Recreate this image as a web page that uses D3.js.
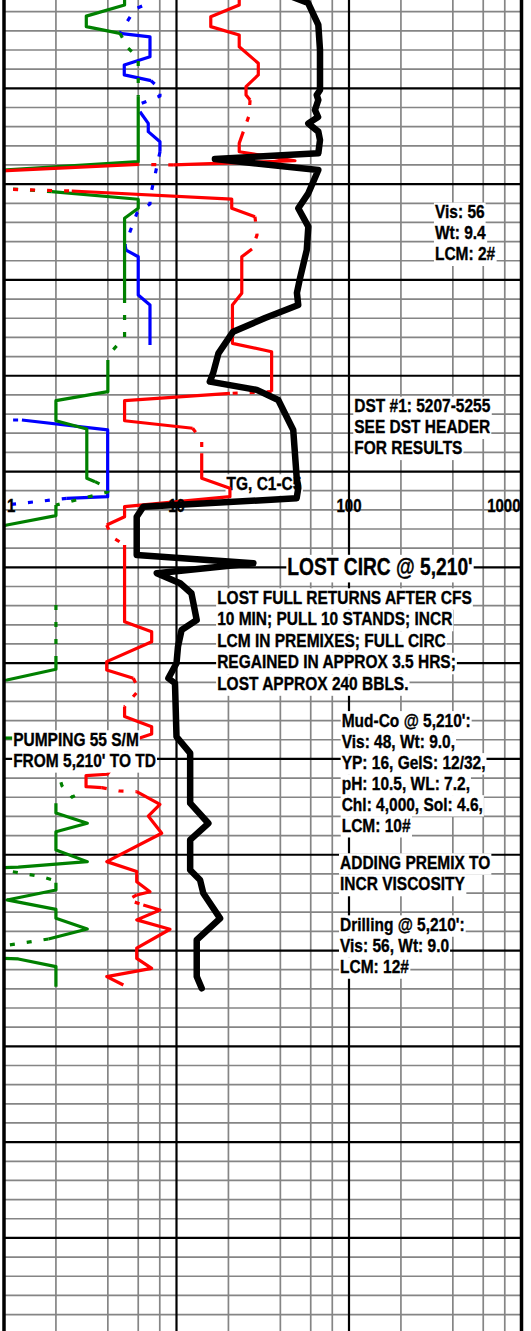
<!DOCTYPE html>
<html><head><meta charset="utf-8">
<script src="https://cdn.jsdelivr.net/npm/d3@7/dist/d3.min.js"></script>
<style>html,body{margin:0;padding:0;background:#fff;} svg{display:block;}</style>
</head><body>
<svg id="chart" width="531" height="1331"></svg>
<script>
// ---------- DATA (depth in ft, value on log scale 1..1000) ----------
const scaleTicks = [1, 10, 100, 1000];
const scaleTickLabels = ["1", "10", "100", "1000"];
const minorDecadeSteps = [2, 4, 6, 8];

// Total gas (black)
const tgDepth = [4951.8, 4955.5, 4966.9, 4980.0, 5000.9, 5003.5, 5006.1, 5011.3, 5015.0, 5018.3, 5022.6, 5027.0, 5033.9, 5036.9, 5042.6, 5054.8, 5062.6, 5072.2, 5084.4, 5099.1, 5106.8, 5113.1, 5119.9, 5127.0, 5138.3, 5148.7, 5153.1, 5157.4, 5162.7, 5178.3, 5202.7, 5208.7, 5214.0, 5218.4, 5223.6, 5243.6, 5247.9, 5253.1, 5258.3, 5263.5, 5277.5, 5282.7, 5291.4, 5300.1, 5307.9, 5310.5, 5338.4, 5347.0, 5373.1, 5383.6, 5392.3, 5408.0, 5413.2, 5420.1, 5433.2, 5444.5, 5463.6, 5469.7];
const tgValue = [45.5, 58.0, 66.4, 67.9, 67.9, 65.0, 66.4, 63.5, 66.2, 58.1, 66.4, 67.9, 66.4, 16.7, 66.4, 58.1, 50.8, 58.1, 56.9, 52.0, 49.9, 50.8, 32.6, 21.3, 17.5, 16.3, 15.6, 29.2, 38.9, 47.5, 49.7, 50.8, 49.7, 6.42, 5.88, 5.88, 27.9, 7.68, 10.5, 12.2, 13.1, 10.7, 10.2, 10.0, 8.97, 9.8, 10.0, 12.0, 12.0, 15.3, 12.0, 12.0, 13.7, 14.3, 17.9, 13.1, 13.1, 14.0];

// Red curve: [depth, value] runs
const redSolid = [
  [[4950.8,23.1],[4956.5,23.1],[4962.6,15.8],[4967.8,15.8],[4972.2,23.1],[4978.3,23.1],[4986.9,29.8],[4993.0,29.8],[4999.1,25.3],[5003.5,25.3],[5006.1,26.7]],
  [[5022.6,24.4],[5028.7,23.1],[5033.1,23.1],[5037.8,48.6],[5040.0,9.58]],
  [[5039.7,6.0],[5043.0,1.04],[5043.4,0.9],[5052.5,0.9]],
  [[5053.6,2.47],[5057.8,20.9],[5062.6,20.9],[5067.0,28.5]],
  [[5083.9,27.4],[5087.9,23.9],[5107.0,23.9],[5113.1,21.1],[5133.1,21.1],[5137.5,35.6],[5158.3,35.6]],
  [[5159.2,20.4],[5163.0,5.0],[5173.5,5.0],[5177.4,12.4]],
  [[5190.5,14.0],[5203.5,14.0],[5208.7,20.4],[5213.1,20.4],[5218.3,5.0],[5223.6,5.0],[5227.9,3.94]],
  [[5238.3,5.0],[5278.4,5.0],[5283.6,7.18],[5288.8,7.18],[5299.2,3.94],[5303.6,3.94],[5307.9,5.62]],
  [[5322.7,5.0],[5327.9,5.0],[5333.2,7.18],[5337.0,7.18],[5339.6,5.88],[5358.0,3.97],[5358.7,2.99],[5364.5,2.99],[5365.0,3.69]],
  [[5367.1,5.88],[5373.7,8.02],[5379.8,6.86],[5388.8,8.21],[5403.6,3.94],[5408.8,5.88],[5414.1,5.88],[5419.3,7.02],[5421.0,5.88]],
  [[5426.2,6.42],[5428.8,8.02],[5434.0,5.88],[5438.9,9.17],[5448.8,5.88],[5454.1,5.88],[5459.3,7.18],[5463.6,3.94],[5468.0,4.92]]
];
const redDashed = [
  [[5006.1,26.7],[5014.4,26.3],[5022.6,24.4]],
  [[5040.0,9.58],[5039.7,6.0]],
  [[5052.5,0.9],[5053.6,2.47]],
  [[5067.0,28.5],[5076.5,29.3],[5083.9,27.4]],
  [[5158.3,35.6],[5159.2,20.4]],
  [[5177.4,12.4],[5183.5,14.0],[5190.5,14.0]],
  [[5227.9,3.94],[5234.2,4.23],[5238.3,5.0]],
  [[5307.9,5.62],[5314.0,6.06],[5322.7,5.0]],
  [[5365.0,3.69],[5366.7,4.64],[5367.1,5.88]],
  [[5421.0,5.88],[5423.6,5.24],[5426.2,6.42]]
];

// Green curve
const greenSolid = [
  [[4950.8,5.0],[4956.5,5.0],[4962.3,3.0],[4967.8,3.0],[4971.3,4.7]],
  [[5004.4,6.0],[5038.3,6.0],[5042.6,1.04],[5043.1,0.9],[5052.0,0.9]],
  [[5053.9,1.89],[5057.9,6.0],[5062.6,6.0],[5067.8,5.0],[5109.4,5.0]],
  [[5141.8,4.0],[5158.3,4.0],[5163.0,2.0],[5173.5,2.0],[5177.8,3.02],[5203.5,3.02],[5205.3,3.37]],
  [[5217.5,2.0],[5223.0,2.0],[5227.9,1.04],[5228.9,0.9]],
  [[5298.4,2.0],[5303.2,2.0],[5308.8,1.04],[5309.3,0.9]],
  [[5339.1,0.9],[5339.1,1.24]],
  [[5373.1,2.0],[5378.2,2.0],[5383.6,3.04],[5388.0,2.0],[5397.5,2.0],[5403.6,3.04],[5406.5,1.21],[5406.9,0.9]],
  [[5414.6,2.0],[5418.4,2.0],[5423.6,1.04],[5428.5,2.0],[5433.2,2.0],[5438.8,3.04],[5444.0,1.81]],
  [[5453.9,0.9],[5454.4,1.21],[5458.4,2.0],[5468.9,2.0]]
];
const greenDashed = [
  [[4971.3,4.7],[4979.0,5.24],[4984.2,6.0],[5004.4,6.0]],
  [[5052.0,0.9],[5053.9,1.89]],
  [[5109.4,5.0],[5129.8,5.0],[5136.6,4.28],[5141.8,4.0]],
  [[5205.3,3.37],[5208.6,4.0],[5210.7,4.0],[5217.5,2.0]],
  [[5269.6,2.0],[5298.4,2.0]],
  [[5353.7,2.0],[5364.1,2.17],[5369.9,2.48],[5366.7,2.91]],
  [[5407.4,0.9],[5411.6,1.68],[5413.7,2.0]],
  [[5444.0,1.81],[5445.5,1.41],[5448.1,0.9]]
];

// Blue curve
const blueSolid = [
  [[4971.3,4.7],[4973.1,7.02],[4983.5,7.02],[4987.8,4.98],[4993.0,4.98],[4996.0,7.11]],
  [[5012.2,6.14],[5018.3,6.86],[5022.6,6.86],[5027.9,8.02],[5033.1,8.02]],
  [[5081.8,5.03],[5084.4,5.1],[5087.9,6.0],[5107.9,6.0],[5113.1,7.02],[5134.0,7.02]],
  [[5173.1,1.27],[5178.3,3.99],[5213.1,3.99],[5214.0,2.31]]
];
const blueDashed = [
  [[4950.8,7.21],[4955.5,6.93],[4958.6,5.75],[4971.3,4.7]],
  [[4996.0,7.11],[5000.3,8.02],[5004.0,8.02],[5008.2,6.14],[5012.2,6.14]],
  [[5033.1,8.02],[5045.2,7.51],[5057.2,7.02],[5060.4,7.02],[5065.1,5.9],[5081.8,5.03]],
  [[5173.1,0.9],[5173.1,1.27]],
  [[5214.0,2.31],[5218.0,0.9]]
];

// Annotations: text lines, anchored at [value, depth of first baseline]
const noteMud1 = ["Vis: 56", "Wt: 9.4", "LCM: 2#"];
const noteDst = ["DST #1: 5207-5255", "SEE DST HEADER", "FOR RESULTS"];
const noteTg = ["TG, C1-C5"];
const noteLostCirc = ["LOST CIRC @ 5,210'"];
const noteLostFull = ["LOST FULL RETURNS AFTER CFS", "10 MIN; PULL 10 STANDS; INCR", "LCM IN PREMIXES; FULL CIRC", "REGAINED IN APPROX 3.5 HRS;", "LOST APPROX 240 BBLS."];
const noteMudCo = ["Mud-Co @ 5,210':", "Vis: 48, Wt: 9.0,", "YP: 16, GelS: 12/32,", "pH: 10.5, WL: 7.2,", "Chl: 4,000, Sol: 4.6,", "LCM: 10#"];
const notePremix = ["ADDING PREMIX TO", "INCR VISCOSITY"];
const noteDrilling = ["Drilling @ 5,210':", "Vis: 56, Wt: 9.0", "LCM: 12#"];
const notePumping = ["PUMPING 55 S/M", "FROM 5,210' TO TD"];
const noteAnchors = [
  {lines: noteMud1, value: 315, depth: 5067.8},
  {lines: noteDst, value: 107.3, depth: 5169.1},
  {lines: noteLostCirc, value: 43.9, depth: 5254.0, big: true},
  {lines: noteLostFull, value: 17.2, depth: 5269.1, lh: 21.5},
  {lines: noteMudCo, value: 90.7, depth: 5333.2},
  {lines: notePremix, value: 88.7, depth: 5407.4, lh: 21.5},
  {lines: noteDrilling, value: 88.7, depth: 5439.8},
  {lines: notePumping, value: 1.13, depth: 5343.2}
];
const tgAnchor = {value: 19.5, depth: 5209.6};
const scaleLabelDepth = 5220.9;

// ---------- CHART ----------
const W = 531, H = 1331;
const depthTop = 4953.9, pxPerFt = 1.916;
const x = d3.scaleLog().domain([1, 1000]).range([4, 521.5]);
const y = d3.scaleLinear().domain([depthTop, depthTop + H / pxPerFt]).range([0, H]);
const svg = d3.select('#chart');
const FONT = "'Liberation Sans', Arial, Helvetica, sans-serif";
const STRETCH = 1.2;

svg.append('rect').attr('width', W).attr('height', H).attr('fill', '#fff');

const grid = svg.append('g');
const depthLines = d3.range(4960, 5660, 10);
const minorVals = [];
[1, 10, 100].forEach(dec => minorDecadeSteps.forEach(s => minorVals.push(s * dec)));

grid.selectAll('.hmin').data(depthLines.filter(d => d % 50 !== 0)).join('line')
  .attr('x1', x(1)).attr('x2', x(1000)).attr('y1', d => y(d)).attr('y2', d => y(d))
  .attr('stroke', '#858585').attr('stroke-width', 1.7);
grid.selectAll('.vmin').data(minorVals).join('line')
  .attr('x1', d => x(d)).attr('x2', d => x(d)).attr('y1', 0).attr('y2', H)
  .attr('stroke', '#858585').attr('stroke-width', 1.7);
grid.selectAll('.hmaj').data(depthLines.filter(d => d % 50 === 0)).join('line')
  .attr('x1', x(1)).attr('x2', x(1000)).attr('y1', d => y(d)).attr('y2', d => y(d))
  .attr('stroke', '#000').attr('stroke-width', 2.2);
grid.selectAll('.vmaj').data([10, 100]).join('line')
  .attr('x1', d => x(d)).attr('x2', d => x(d)).attr('y1', 0).attr('y2', H)
  .attr('stroke', '#000').attr('stroke-width', 2.2);

function styledText(sel, size) {
  return sel.attr('font-family', FONT).attr('font-weight', 'bold').attr('font-size', size)
    .attr('fill', '#000').attr('stroke', '#000').attr('stroke-width', 0.3);
}
function drawNote(g, lines, value, depth, size, lh, stretch) {
  const x0 = x(value), y0 = y(depth);
  lines.forEach((t, i) => {
    const grp = g.append('g');
    const rect = grp.append('rect').attr('fill', '#fff');
    const yb = y0 + i * lh;
    const txt = styledText(grp.append('text'), size)
      .attr('transform', `translate(${x0},${yb}) scale(1,${stretch})`).text(t);
    const bb = txt.node().getBBox();
    rect.attr('x', x0 + bb.x - 1).attr('width', bb.width + 2)
      .attr('y', yb - size * stretch * 0.84).attr('height', Math.max(lh, size * stretch * 1.15));
  });
}
// TG label (beneath curves)
const gTg = svg.append('g');
drawNote(gTg, noteTg, tgAnchor.value, tgAnchor.depth, 15.5, 20, STRETCH);

// curves
svg.append('clipPath').attr('id', 'plotclip').append('rect')
  .attr('x', x(1)).attr('y', 0).attr('width', x(1000) - x(1)).attr('height', H);
const curves = svg.append('g').attr('clip-path', 'url(#plotclip)');
const line = d3.line().x(d => x(d[1])).y(d => y(d[0]));
function drawRuns(runs, color, width, dashed) {
  curves.append('g').selectAll('path').data(runs).join('path')
    .attr('d', line).attr('fill', 'none').attr('stroke', color)
    .attr('stroke-width', width).attr('stroke-linejoin', 'round')
    .attr('stroke-dasharray', dashed ? '5,12' : null);
}
drawRuns(blueSolid, '#0000ff', 3.2, false);
drawRuns(blueDashed, '#0000ff', 3.2, true);
drawRuns(greenSolid, '#008000', 3.2, false);
drawRuns(greenDashed, '#008000', 3.2, true);
drawRuns(redSolid, '#ff0000', 3.2, false);
drawRuns(redDashed, '#ff0000', 3.2, true);
const tgPts = tgDepth.map((d, i) => [d, tgValue[i]]);
curves.append('path').datum(tgPts).attr('d', line).attr('fill', 'none')
  .attr('stroke', '#000').attr('stroke-width', 6.5).attr('stroke-linejoin', 'round').attr('stroke-linecap', 'round');

// borders
svg.selectAll('.border').data([1, 1000]).join('line')
  .attr('x1', d => x(d)).attr('x2', d => x(d)).attr('y1', 0).attr('y2', H)
  .attr('stroke', '#000').attr('stroke-width', 3.5);

// annotations
const notes = svg.append('g');
noteAnchors.forEach(n => {
  if (n.big) drawNote(notes, n.lines, n.value, n.depth, 19.2, 24, 1.25);
  else drawNote(notes, n.lines, n.value, n.depth, 15.5, n.lh || 21, STRETCH);
});

// scale labels
const anchors = ['start', 'middle', 'middle', 'end'];
const offs = [3, 0, 0, -1];
styledText(svg.append('g').selectAll('text').data(scaleTicks).join('text'), 15)
  .attr('text-anchor', (d, i) => anchors[i])
  .attr('transform', (d, i) => `translate(${x(d) + offs[i]},${y(scaleLabelDepth)}) scale(1,${STRETCH})`)
  .text((d, i) => scaleTickLabels[i]);
</script>
</body></html>
